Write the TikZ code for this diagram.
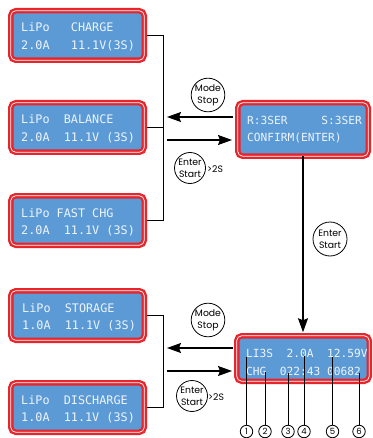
\documentclass[tikz,border=0pt]{standalone}
\usepackage{fontspec}
\newfontfamily\lcdfont{DejaVu Sans Mono}
\newfontfamily\labfont{Poppins}
\usetikzlibrary{arrows.meta,backgrounds}
\definecolor{lcdred}{HTML}{E5262D}
\definecolor{lcdblue}{HTML}{5B9AD5}
\definecolor{lcdtext}{HTML}{EEF4FB}
\begin{document}
\begin{tikzpicture}[x=1pt,y=-1pt,
  lcd/.style={draw=lcdred, double=white, double distance=0.7pt, line width=2.4pt, fill=lcdblue, rounded corners=5pt, outer sep=0pt, inner sep=0pt},
  lcdl/.style={text=lcdtext, font=\lcdfont\fontsize{11.8}{14}\selectfont, inner sep=0pt, anchor=base west},
  lcdr/.style={lcdl, font=\lcdfont\fontsize{11.2}{14}\selectfont},
  conn/.style={line width=1pt, black},
  arr/.style={line width=1.1pt, -{Stealth[length=14pt,width=10pt,inset=2pt]}},
  btn/.style={circle, draw, line width=0.8pt, minimum size=31pt, inner sep=0pt, align=center, font=\labfont\fontsize{9.3}{12}\selectfont},
  numc/.style={circle, draw, line width=0.8pt, minimum size=12.5pt, inner sep=0pt, fill=white, font=\labfont\fontsize{8.5}{9}\selectfont},
  note/.style={font=\labfont\fontsize{9.3}{10}\selectfont, inner sep=0pt, anchor=west},
  call/.style={line width=0.8pt}
]
\useasboundingbox (0,0) rectangle (372,438);

% left boxes
\node[lcd, minimum width=133.5pt, minimum height=49.5pt] (charge) at (77.5,35.5) {};
\node[lcdl] (charge1) at (21,31.5) {LiPo~~~CHARGE};
\node[lcdl] (charge2) at (21,49.5) {2.0A~~~11.1V(3S)};

\node[lcd, minimum width=133.5pt, minimum height=49.5pt] (balance) at (77.5,127.5) {};
\node[lcdl] (balance1) at (21,124) {LiPo~~BALANCE};
\node[lcdl] (balance2) at (21,141.5) {2.0A~~11.1V~(3S)};

\node[lcd, minimum width=133.5pt, minimum height=49.5pt] (fast) at (77.5,220.5) {};
\node[lcdl] (fast1) at (21,217) {LiPo~FAST~CHG};
\node[lcdl] (fast2) at (21,234.5) {2.0A~~11.1V~(3S)};

\node[lcd, minimum width=133.5pt, minimum height=49.5pt] (storage) at (77.5,315.5) {};
\node[lcdl] (storage1) at (22,312) {LiPo~~STORAGE};
\node[lcdl] (storage2) at (22,329.5) {1.0A~~11.1V~(3S)};

\node[lcd, minimum width=133.5pt, minimum height=49.5pt] (discharge) at (77.5,407.5) {};
\node[lcdl] (discharge1) at (21,404) {LiPo~~DISCHARGE};
\node[lcdl] (discharge2) at (21,421.5) {1.0A~~11.1V~(3S)};

% right boxes
\node[lcd, minimum width=130.5pt, minimum height=53.5pt] (confirm) at (303,129.5) {};
\node[lcdr] (confirm1) at (247,125) {R:3SER~~~~~S:3SER};
\node[lcdr] (confirm2) at (247,142) {CONFIRM(ENTER)};

\node[lcd, minimum width=132.5pt, minimum height=45.5pt] (status) at (303,358.5) {};
\node[lcdr] (status1) at (246,357) {LI3S~~2.0A~~12.59V};
\node[lcdr] (status2) at (246,375) {CHG~~022:43~00682};

% bus connectors
\coordinate (busa) at (163,0);
\coordinate (busb) at (163,0);
\begin{scope}[on background layer]
\draw[conn] (charge.east) -- (charge.east -| busa) -- (fast.east -| busa) -- (fast.east);
\draw[conn] (balance.east) -- (balance.east -| busa);
\draw[conn] (storage.east) -- (storage.east -| busb) -- (discharge.east -| busb) -- (discharge.east);
\end{scope}

% top arrows
\coordinate (a1s) at (233,117);
\coordinate (a1e) at (167,117);
\coordinate (a2s) at (167,140);
\coordinate (a2e) at (232,140);
\draw[arr] (a1s) -- (a1e);
\draw[arr] (a2s) -- (a2e);
\node[btn] (mode1) at (208,95) {Mode\\Stop};
\node[btn] (enter1) at (190,168) {Enter\\Start};
\node[note] (gt1) at (207,169.5) {>2S};

% bottom arrows
\coordinate (b1s) at (233,348);
\coordinate (b1e) at (167,348);
\coordinate (b2s) at (167,371);
\coordinate (b2e) at (232,371);
\draw[arr] (b1s) -- (b1e);
\draw[arr] (b2s) -- (b2e);
\node[btn] (mode2) at (208,320) {Mode\\Stop};
\node[btn] (enter2) at (192,396) {Enter\\Start};
\node[note] (gt2) at (208,397) {>2S};

% vertical arrow
\draw[arr] (confirm.south) -- ([yshift=3.5pt]status.north);
\node[btn, minimum size=34pt] (enter3) at (330,239) {Enter\\Start};

% callouts
\node[numc] (n1) at (246.5,431.5) {1};
\node[numc] (n2) at (265,431.5) {2};
\node[numc] (n3) at (288,431.5) {3};
\node[numc] (n4) at (304,431.5) {4};
\node[numc] (n5) at (332.5,431.5) {5};
\node[numc] (n6) at (359,431.5) {6};
\coordinate (p1) at (246.5,357);
\coordinate (p2) at (265,372);
\coordinate (p3) at (288,373);
\coordinate (p4) at (304,356);
\coordinate (p5) at (332.5,357);
\coordinate (p6) at (359,373);
\draw[call] (p1) -- (n1);
\draw[call] (p2) -- (n2);
\draw[call] (p3) -- (n3);
\draw[call] (p4) -- (n4);
\draw[call] (p5) -- (n5);
\draw[call] (p6) -- (n6);
\end{tikzpicture}
\end{document}
